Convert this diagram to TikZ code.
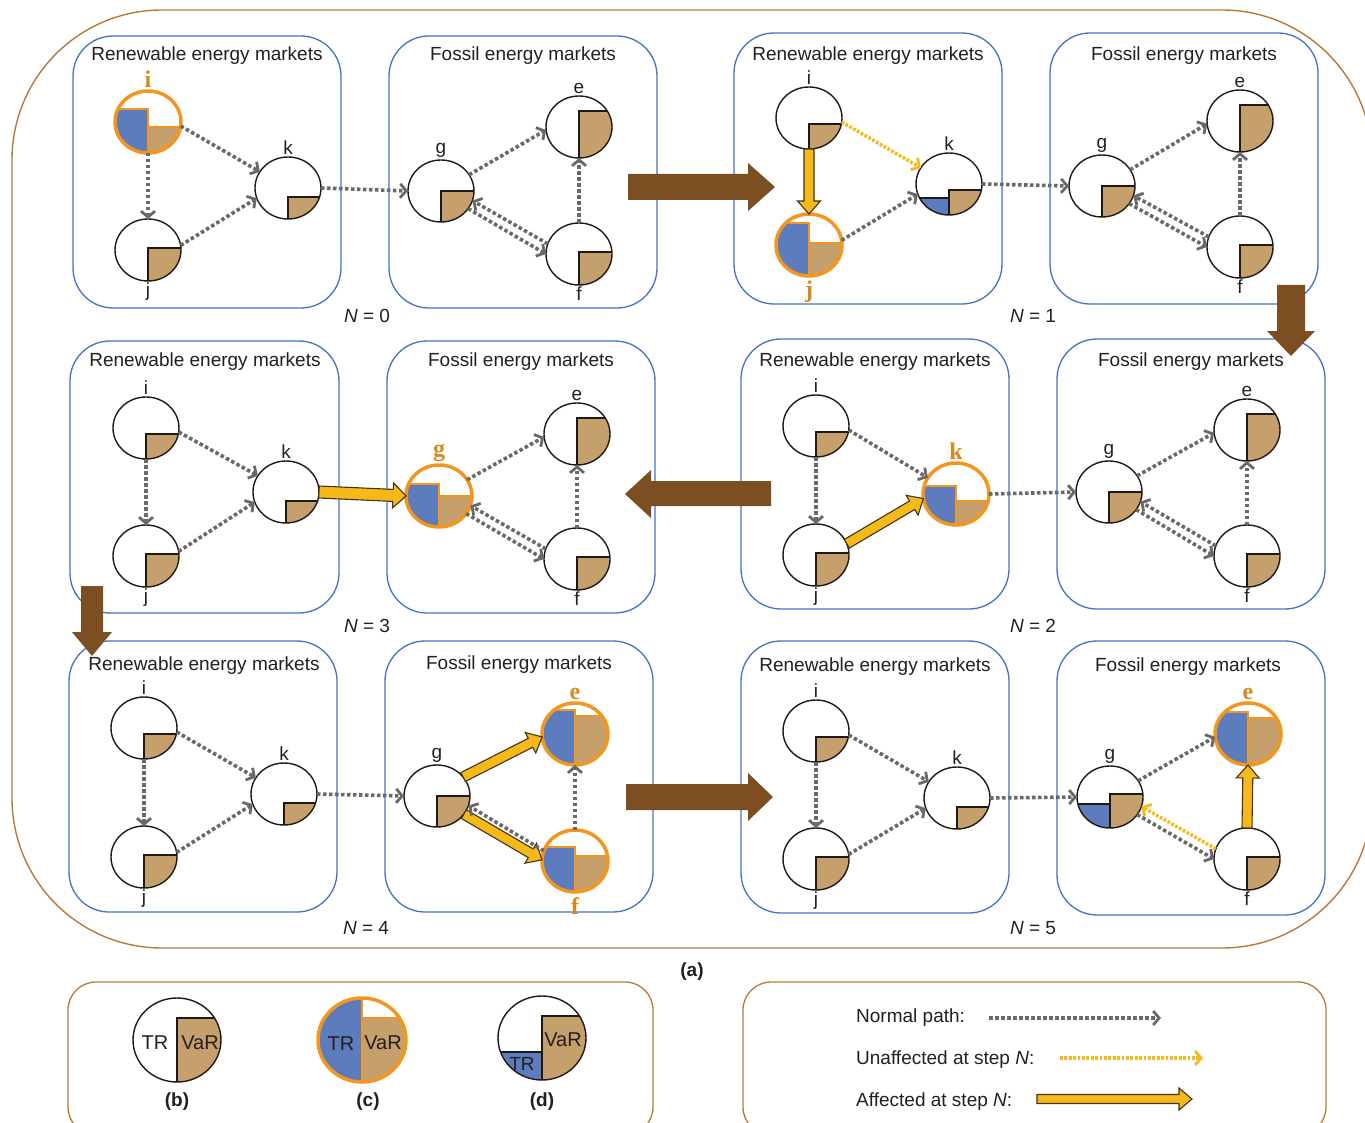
\documentclass[tikz,border=0pt]{standalone}
\usepackage{fontspec}
\setmainfont{Liberation Sans}
\newfontfamily\serifb{Liberation Serif}
\usetikzlibrary{shapes.geometric,arrows.meta,calc}

\definecolor{txt}{RGB}{35,31,32}
\definecolor{panelblue}{RGB}{68,114,196}
\definecolor{outerbrown}{RGB}{184,122,58}
\definecolor{bluec}{RGB}{92,124,190}
\definecolor{tanc}{RGB}{197,160,108}
\definecolor{orangec}{RGB}{242,150,32}
\definecolor{orlab}{RGB}{214,138,30}
\definecolor{yellowc}{RGB}{245,186,26}
\definecolor{bigbrown}{RGB}{124,79,34}
\definecolor{grayc}{RGB}{105,105,105}
\definecolor{edgec}{RGB}{30,25,20}
\definecolor{ardark}{RGB}{70,50,20}

\tikzset{
  nc/.style={ellipse, minimum width=66pt, minimum height=62pt, inner sep=0pt, outer sep=0pt},
  panel/.style={draw=panelblue, line width=1.3pt, rounded corners=40pt},
  ttl/.style={font=\fontsize{19}{22}\selectfont, text=txt, inner sep=0pt},
  lab/.style={font=\fontsize{19}{22}\selectfont, text=txt, inner sep=0pt},
  olab/.style={font=\serifb\bfseries\fontsize{24}{26}\selectfont, text=orlab, inner sep=0pt},
  nlab/.style={font=\fontsize{19}{22}\selectfont, text=txt, inner sep=0pt},
  blab/.style={font=\bfseries\fontsize{19}{22}\selectfont, text=txt, inner sep=0pt},
  leg/.style={font=\fontsize{20}{22}\selectfont, text=txt, inner sep=0pt},
  np/.style={draw=grayc, line width=3.6pt, dash pattern=on 3.5pt off 2.5pt,
    -{Straight Barb[length=6pt,width=14pt,line width=2.8pt]}},
  up/.style={draw=yellowc, line width=3.4pt, dash pattern=on 2.8pt off 1.6pt,
    -{Straight Barb[length=6pt,width=14pt,line width=2.8pt]}},
  legbox/.style={draw=outerbrown, line width=1.3pt, rounded corners=28pt},
}

% plain node: name, x, y, brown top offset
\newcommand\ndplain[4]{%
  \node[nc] (#1) at (#2,#3) {};
  \begin{scope}
    \clip (#2,#3) ellipse [x radius=33, y radius=31];
    \filldraw[fill=tanc, draw=edgec, line width=1.2pt] (#2,{#3+(#4)}) rectangle (#2+40,#3+40);
  \end{scope}
  \draw[edgec, line width=1.4pt] (#2,#3) ellipse [x radius=33, y radius=31];
}
% affected node: name, x, y, blue top, brown top
\newcommand\ndaff[5]{%
  \node[nc] (#1) at (#2,#3) {};
  \begin{scope}
    \clip (#2,#3) ellipse [x radius=33, y radius=31];
    \filldraw[fill=bluec, draw=orangec, line width=1.2pt] (#2-40,{#3+(#4)}) rectangle (#2,#3+40);
    \filldraw[fill=tanc, draw=orangec, line width=1.2pt] (#2,{#3+(#5)}) rectangle (#2+40,#3+40);
  \end{scope}
  \draw[orangec, line width=3.5pt] (#2,#3) ellipse [x radius=33, y radius=31];
}
% partially hit node: name, x, y, blue top, brown top
\newcommand\ndpart[5]{%
  \node[nc] (#1) at (#2,#3) {};
  \begin{scope}
    \clip (#2,#3) ellipse [x radius=33, y radius=31];
    \filldraw[fill=bluec, draw=edgec, line width=1.2pt] (#2-40,{#3+(#4)}) rectangle (#2,#3+40);
    \filldraw[fill=tanc, draw=edgec, line width=1.2pt] (#2,{#3+(#5)}) rectangle (#2+40,#3+40);
  \end{scope}
  \draw[edgec, line width=1.4pt] (#2,#3) ellipse [x radius=33, y radius=31];
}
\newcommand\labup[2]{\node[lab, anchor=south] (#1t) at ($(#1.center)+(0,-33)$) {#2};}
\newcommand\labdn[2]{\node[lab, anchor=north] (#1t) at ($(#1.center)+(0,33)$) {#2};}
\newcommand\olabup[2]{\node[olab, anchor=south] (#1t) at ($(#1.center)+(0,-34)$) {#2};}
\newcommand\olabdn[2]{\node[olab, anchor=north] (#1t) at ($(#1.center)+(0,36)$) {#2};}

% yellow block arrow: from, to, shaft half width
\newcommand\affarrow[3]{%
  \path[draw=ardark, fill=yellowc, line width=1.1pt, line join=miter]
   let \p1=(#1), \p2=(#2), \n1={atan2(\y2-\y1,\x2-\x1)}, \n2={veclen(\x2-\x1,\y2-\y1)} in
   ($(\p1)+(\n1+90:#3)$) -- ++(\n1:\n2-13pt) -- ++(\n1+90:6.5pt) -- (\p2)
   -- ($(\p2)+(\n1+180:13pt)+(\n1-90:#3+6.5pt)$) -- ++(\n1+90:6.5pt)
   -- ++(\n1+180:\n2-13pt) -- cycle;
}
\newcommand\renstd[1]{%
  \draw[np] (i#1.-7) -- (k#1.150);
  \draw[np] (i#1.270) -- (j#1.90);
  \draw[np] (j#1.8) -- (k#1.198);
}
\newcommand\fosstd[1]{%
  \draw[np] (g#1.30) -- (e#1.185);
  \draw[np] (f#1.90) -- (e#1.270);
  \draw[np] (f#1.162) -- (g#1.-17);
  \draw[np] (g#1.-33) -- (f#1.180);
}

\begin{document}
\begin{tikzpicture}[x=1pt,y=-1pt]
\useasboundingbox (0,0) rectangle (1365,1123);
\fill[white] (0,0) rectangle (1365,1123);
\draw[outerbrown, line width=1.4pt, rounded corners=150pt] (12,10) rectangle (1372,948);

% panels
\draw[panel] (73,36) rectangle (341,308);
\draw[panel] (389,36) rectangle (657,308);
\draw[panel] (734,33) rectangle (1002,304);
\draw[panel] (1050,33) rectangle (1318,304);
\draw[panel] (70,341) rectangle (339,613);
\draw[panel] (387,341) rectangle (655,613);
\draw[panel] (741,339) rectangle (1009,609);
\draw[panel] (1057,339) rectangle (1325,609);
\draw[panel] (69,641) rectangle (337,912);
\draw[panel] (385,641) rectangle (653,912);
\draw[panel] (741,641) rectangle (1009,913);
\draw[panel] (1057,641) rectangle (1325,915);

% titles
\node[ttl] (t0r) at (207,56) {Renewable energy markets};
\node[ttl] (t0f) at (523,56) {Fossil energy markets};
\node[ttl] (t1r) at (868,56) {Renewable energy markets};
\node[ttl] (t1f) at (1184,56) {Fossil energy markets};
\node[ttl] (t3r) at (205,362) {Renewable energy markets};
\node[ttl] (t3f) at (521,362) {Fossil energy markets};
\node[ttl] (t2r) at (875,362) {Renewable energy markets};
\node[ttl] (t2f) at (1191,362) {Fossil energy markets};
\node[ttl] (t4r) at (204,666) {Renewable energy markets};
\node[ttl] (t4f) at (519,665) {Fossil energy markets};
\node[ttl] (t5r) at (875,667) {Renewable energy markets};
\node[ttl] (t5f) at (1188,667) {Fossil energy markets};

% N labels
\node[nlab] (n0) at (367,316) {\textit{N} = 0};
\node[nlab] (n1) at (1033,316) {\textit{N} = 1};
\node[nlab] (n3) at (367,626) {\textit{N} = 3};
\node[nlab] (n2) at (1033,626) {\textit{N} = 2};
\node[nlab] (n4) at (366,928) {\textit{N} = 4};
\node[nlab] (n5) at (1033,928) {\textit{N} = 5};
\node[blab] (na) at (692,972) {(a)};

% ---------- N = 0
\ndaff{i0}{148}{122}{-13}{5}
\ndplain{j0}{148}{250}{-2}
\ndplain{k0}{288}{188}{9}
\ndplain{g0}{441}{191}{0}
\ndplain{e0}{579}{127}{-16}
\ndplain{f0}{579}{254}{-2}
\olabup{i0}{i}\labdn{j0}{j}\labup{k0}{k}\labup{g0}{g}\labup{e0}{e}\labdn{f0}{f}
\renstd{0}
\draw[np] (k0.0) -- (g0.180);
\fosstd{0}

% ---------- N = 1
\ndplain{i1}{809}{118}{6}
\ndaff{j1}{809}{245}{-22}{-2}
\ndpart{k1}{949}{184}{14}{6}
\ndplain{g1}{1102}{186}{0}
\ndplain{e1}{1240}{121}{-16}
\ndplain{f1}{1240}{247}{-2}
\labup{i1}{i}\olabdn{j1}{j}\labup{k1}{k}\labup{g1}{g}\labup{e1}{e}\labdn{f1}{f}
\draw[up] (i1.-7) -- (k1.150);
\affarrow{i1.270}{j1.90}{5pt}
\draw[np] (j1.8) -- (k1.198);
\draw[np] (k1.0) -- (g1.180);
\fosstd{1}

% ---------- N = 2
\ndplain{i2}{816}{426}{6}
\ndplain{j2}{816}{555}{-2}
\ndaff{k2}{956}{494}{-8}{7}
\ndplain{g2}{1109}{492}{0}
\ndplain{e2}{1247}{430}{-16}
\ndplain{f2}{1247}{556}{-2}
\labup{i2}{i}\labdn{j2}{j}\olabup{k2}{k}\labup{g2}{g}\labup{e2}{e}\labdn{f2}{f}
\draw[np] (i2.-7) -- (k2.150);
\draw[np] (i2.270) -- (j2.90);
\affarrow{j2.20}{k2.188}{5pt}
\draw[np] (k2.0) -- (g2.180);
\fosstd{2}

% ---------- N = 3
\ndplain{i3}{146}{428}{6}
\ndplain{j3}{146}{556}{-2}
\ndplain{k3}{286}{492}{9}
\ndaff{g3}{439}{496}{-12}{0}
\ndplain{e3}{577}{434}{-16}
\ndplain{f3}{577}{559}{-2}
\labup{i3}{i}\labdn{j3}{j}\labup{k3}{k}\olabup{g3}{g}\labup{e3}{e}\labdn{f3}{f}
\renstd{3}
\affarrow{k3.0}{g3.180}{6pt}
\fosstd{3}

% ---------- N = 4
\ndplain{i4}{144}{728}{6}
\ndplain{j4}{144}{857}{-2}
\ndplain{k4}{284}{794}{9}
\ndplain{g4}{437}{796}{0}
\ndaff{e4}{575}{734}{-24}{-18}
\ndaff{f4}{575}{861}{-14}{-5}
\labup{i4}{i}\labdn{j4}{j}\labup{k4}{k}\labup{g4}{g}\olabup{e4}{e}\olabdn{f4}{f}
\renstd{4}
\draw[np] (k4.0) -- (g4.180);
\affarrow{g4.36}{e4.185}{5pt}
\affarrow{g4.-34}{f4.178}{5pt}
\draw[np] (f4.162) -- (g4.-17);
\draw[np] (f4.90) -- (e4.270);

% ---------- N = 5
\ndplain{i5}{816}{731}{6}
\ndplain{j5}{816}{859}{-2}
\ndplain{k5}{957}{798}{9}
\ndpart{g5}{1110}{797}{7}{-3}
\ndaff{e5}{1248}{734}{-22}{-16}
\ndplain{f5}{1247}{859}{-2}
\labup{i5}{i}\labdn{j5}{j}\labup{k5}{k}\labup{g5}{g}\olabup{e5}{e}\labdn{f5}{f}
\renstd{5}
\draw[np] (k5.0) -- (g5.180);
\draw[np] (g5.30) -- (e5.185);
\affarrow{f5.90}{e5.270}{5pt}
\draw[up] (f5.162) -- (g5.-17);
\draw[np] (g5.-33) -- (f5.180);

% ---------- big brown step arrows
\fill[bigbrown] (628,174) -- (748,174) -- (748,163) -- (775,187) -- (748,211) -- (748,200) -- (628,200) -- cycle;
\fill[bigbrown] (1277,285) -- (1305,285) -- (1305,331) -- (1315,331) -- (1291,356) -- (1267,331) -- (1277,331) -- cycle;
\fill[bigbrown] (771,481) -- (651,481) -- (651,470) -- (625,494) -- (651,518) -- (651,506) -- (771,506) -- cycle;
\fill[bigbrown] (81,586) -- (103,586) -- (103,632) -- (112,632) -- (92,656) -- (72,632) -- (81,632) -- cycle;
\fill[bigbrown] (626,784) -- (748,784) -- (748,773) -- (773,797) -- (748,821) -- (748,810) -- (626,810) -- cycle;

% ---------- legend boxes
\draw[legbox] (68,982) rectangle (653,1135);
\draw[legbox] (743,982) rectangle (1326,1135);

% (b)
\node[ellipse, minimum width=88pt, minimum height=84pt, inner sep=0pt] (lb) at (177,1040) {};
\begin{scope}
  \clip (177,1040) ellipse [x radius=44, y radius=42];
  \filldraw[fill=tanc, draw=edgec, line width=1.2pt] (177,1018) rectangle (230,1090);
\end{scope}
\draw[edgec, line width=1.4pt] (177,1040) ellipse [x radius=44, y radius=42];
\node[leg] (lbtr) at (155,1043) {TR};
\node[leg] (lbvar) at (200,1043) {VaR};
\node[blab] (lbl) at (177,1102) {(b)};

% (c)
\node[ellipse, minimum width=88pt, minimum height=84pt, inner sep=0pt] (lc) at (362,1040) {};
\begin{scope}
  \clip (362,1040) ellipse [x radius=44, y radius=42];
  \filldraw[fill=bluec, draw=orangec, line width=1.2pt] (315,990) rectangle (362,1090);
  \filldraw[fill=tanc, draw=orangec, line width=1.2pt] (362,1018) rectangle (415,1090);
\end{scope}
\draw[orangec, line width=3.5pt] (362,1040) ellipse [x radius=44, y radius=42];
\node[leg] (lctr) at (341,1044) {TR};
\node[leg] (lcvar) at (383,1043) {VaR};
\node[blab] (lcl) at (368,1102) {(c)};

% (d)
\node[ellipse, minimum width=88pt, minimum height=84pt, inner sep=0pt] (ld) at (542,1038) {};
\begin{scope}
  \clip (542,1038) ellipse [x radius=44, y radius=42];
  \filldraw[fill=tanc, draw=edgec, line width=1.2pt] (542,1016) rectangle (595,1088);
  \filldraw[fill=bluec, draw=edgec, line width=1.2pt] (490,1052) rectangle (542,1088);
\end{scope}
\draw[edgec, line width=1.4pt] (542,1038) ellipse [x radius=44, y radius=42];
\node[leg] (ldvar) at (563,1040) {VaR};
\node[leg, font=\fontsize{19}{22}\selectfont] (ldtr) at (522,1064) {TR};
\node[blab] (ldl) at (542,1102) {(d)};

% right legend
\node[nlab, anchor=west] (lt1) at (856,1018) {Normal path:};
\node[nlab, anchor=west] (lt2) at (856,1060) {Unaffected at step \textit{N}:};
\node[nlab, anchor=west] (lt3) at (856,1102) {Affected at step \textit{N}:};
\coordinate (nla) at (989,1018);
\coordinate (nlb) at (1161,1018);
\draw[np, line width=4.2pt] (nla) -- (nlb);
\coordinate (ula) at (1060,1058);
\coordinate (ulb) at (1203,1058);
\draw[up] (ula) -- (ulb);
\coordinate (ala) at (1037,1099);
\coordinate (alb) at (1192,1099);
\affarrow{ala}{alb}{4.5pt}
\end{tikzpicture}
\end{document}
